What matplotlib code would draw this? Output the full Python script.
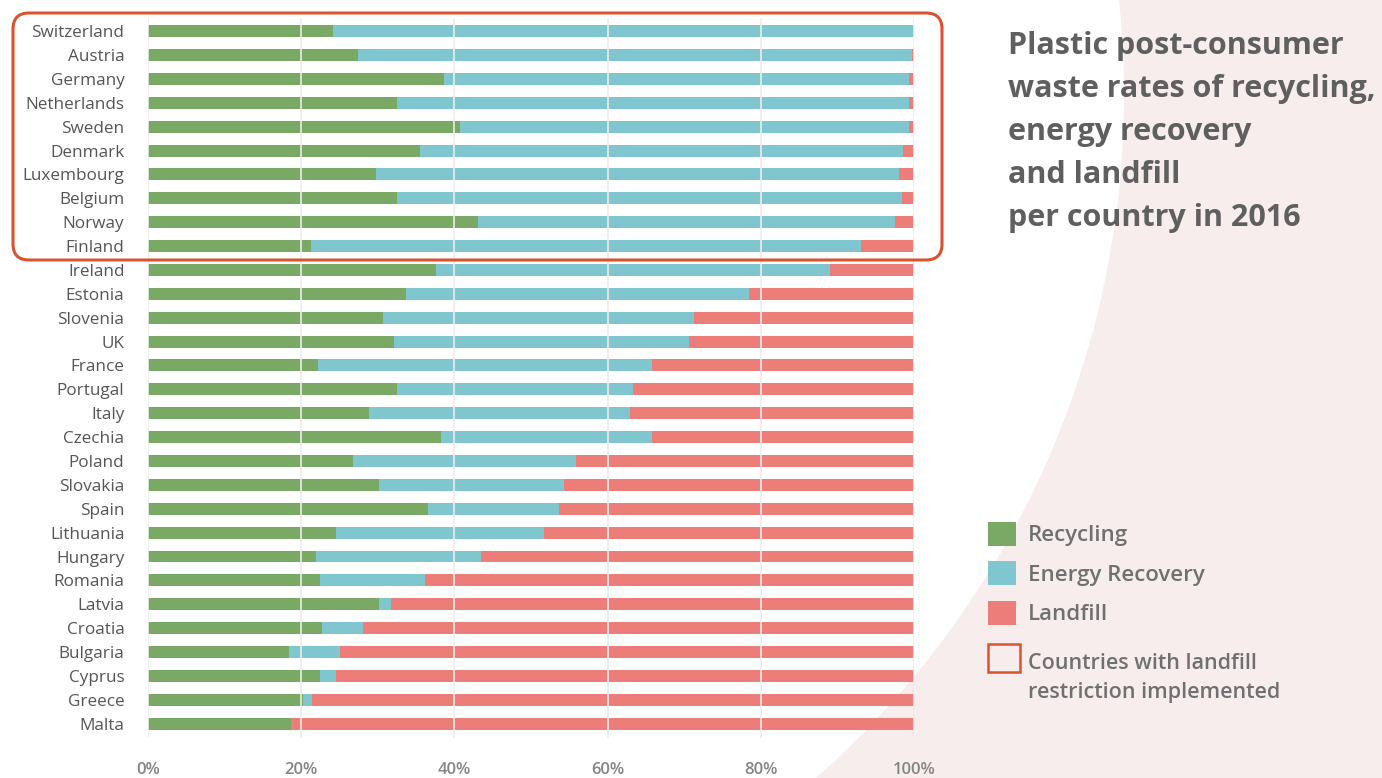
import numpy as np
import matplotlib.pyplot as plt
import matplotlib.patches as mpatches
from matplotlib.transforms import IdentityTransform

# DATA ######
countries = ['Switzerland', 'Austria', 'Germany', 'Netherlands', 'Sweden',
             'Denmark', 'Luxembourg', 'Belgium', 'Norway', 'Finland',
             'Ireland', 'Estonia', 'Slovenia', 'UK', 'France', 'Portugal',
             'Italy', 'Czechia', 'Poland', 'Slovakia', 'Spain', 'Lithuania',
             'Hungary', 'Romania', 'Latvia', 'Croatia', 'Bulgaria', 'Cyprus',
             'Greece', 'Malta']
recycling = np.array([24.1, 27.4, 38.6, 32.5, 40.7, 35.5, 29.7, 32.5, 43.1, 21.3,
                      37.6, 33.7, 30.7, 32.1, 22.2, 32.5, 28.9, 38.2, 26.7, 30.2,
                      36.5, 24.6, 21.9, 22.4, 30.2, 22.7, 18.4, 22.4, 20.3, 18.7])
landfill = np.array([0.0, 0.3, 0.6, 0.6, 0.6, 1.4, 1.9, 1.6, 2.5, 6.9,
                     11.0, 21.6, 28.7, 29.4, 34.2, 36.7, 37.1, 34.2, 44.1, 45.7,
                     46.3, 48.3, 56.5, 63.8, 68.3, 71.9, 74.9, 75.5, 78.6, 81.3])
energy = 100 - recycling - landfill

xticks = [0, 20, 40, 60, 80, 100]
xlabels = ['0%', '20%', '40%', '60%', '80%', '100%']

# STYLE ######
green = '#7aa965'
blue = '#80c6cf'
red = '#ec7d79'
frame = '#d9542e'
grey = '#5f5f5f'

plt.rcParams['font.family'] = ['Open Sans', 'DejaVu Sans']

W, H = 1382, 778
fig = plt.figure(figsize=(W / 100, H / 100), dpi=100, facecolor='#f7eded')

# white disc behind the chart, pink outside
fig.patches.append(mpatches.Ellipse((213 / W, 1 - 95 / H), 2 * 911 / W, 2 * 911 / H,
                                    transform=fig.transFigure, facecolor='white',
                                    edgecolor='none', zorder=-10))

ax = fig.add_axes([148 / W, 1 - 738 / H, (914 - 148) / W, (738 - 18) / H])
ax.set_zorder(1)
ax.set_facecolor('none')
y = np.arange(len(countries))
ax.barh(y, recycling, height=0.5, color=green)
ax.barh(y, energy, left=recycling, height=0.5, color=blue)
ax.barh(y, landfill, left=recycling + energy, height=0.5, color=red)

ax.set_xlim(0, 100)
ax.set_ylim(len(countries) - 0.4, -0.55)
ax.set_xticks(xticks, xlabels)
ax.set_yticks(y, countries)
ax.xaxis.grid(True, color='#ececec', linewidth=1.2)
ax.tick_params(axis='y', length=0, pad=17, labelsize=12.3, labelcolor='#555555')
ax.tick_params(axis='x', length=0, pad=17, labelsize=12, labelcolor='#858585')
for lbl in ax.get_xticklabels():
    lbl.set_fontweight('semibold')
for s in ax.spines.values():
    s.set_visible(False)

# frame around countries with landfill restriction
fig.add_artist(mpatches.FancyBboxPatch((13, H - 260), 929, 247,
                                       boxstyle='round,pad=0,rounding_size=16',
                                       transform=IdentityTransform(), facecolor='none',
                                       edgecolor=frame, linewidth=2.2, zorder=5))

# title
fig.text(1008 / W, 1 - 31 / H,
         'Plastic post-consumer\nwaste rates of recycling,\nenergy recovery\nand landfill\nper country in 2016',
         ha='left', va='top', fontsize=22, fontweight='bold', color=grey, linespacing=1.56)

# legend
legend_items = [('Recycling', green, 534), ('Energy Recovery', blue, 573), ('Landfill', red, 613)]
for label, col, yc in legend_items:
    fig.add_artist(mpatches.Rectangle((988, H - yc - 12), 28, 24, transform=IdentityTransform(),
                                      facecolor=col, edgecolor='none'))
    fig.text(1028 / W, 1 - (yc + 2) / H, label, ha='left', va='center', fontsize=16,
             fontweight='semibold', color='#707070')
fig.add_artist(mpatches.Rectangle((988, H - 672), 32, 28, transform=IdentityTransform(),
                                  facecolor='none', edgecolor=frame, linewidth=1.8))
fig.text(1028 / W, 1 - 653 / H, 'Countries with landfill\nrestriction implemented',
         ha='left', va='top', fontsize=15.5, fontweight='semibold', color='#707070',
         linespacing=1.5)

fig.savefig('out.png', dpi=100, facecolor=fig.get_facecolor())
